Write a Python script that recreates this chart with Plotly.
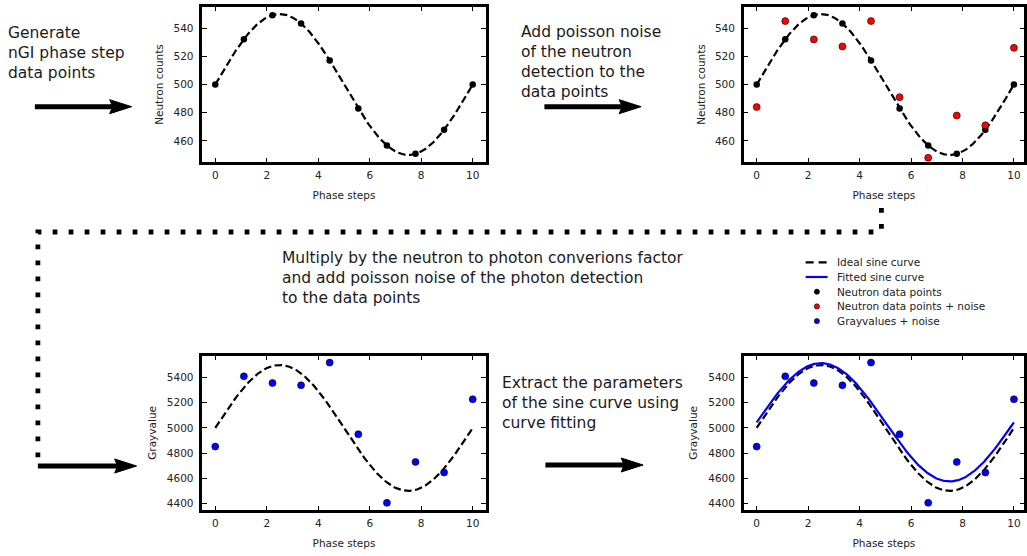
import numpy as np
import plotly.graph_objects as go

# ---- data -------------------------------------------------------------
phase_steps = [0.0, 1.111, 2.222, 3.333, 4.444, 5.556, 6.667, 7.778, 8.889, 10.0]
neutron_counts = [500.0, 532.1, 549.2, 543.3, 517.1, 482.9, 456.7, 450.8, 467.9, 500.0]
neutron_counts_noisy = [484, 545, 532, 527, 545, 491, 448, 478, 471, 526]
grayvalues_noisy = [4852, 5410, 5357, 5339, 5519, 4950, 4405, 4730, 4646, 5228]

# sine curve parameters (offset, amplitude, period)
ideal_neutron = (500, 50, 10)
ideal_gray = (5000, 500, 10)
fitted_gray = (5045, 470, 10)

x_ticks = [0, 2, 4, 6, 8, 10]
neutron_ticks = [460, 480, 500, 520, 540]
gray_ticks = [4400, 4600, 4800, 5000, 5200, 5400]

W, H = 1027, 556
FONT = "DejaVu Sans"
BLUE = "#0000ff"
RED = "#ff0000"


def sine(params, x):
    offset, amp, period = params
    return offset + amp * np.sin(2 * np.pi * np.asarray(x) / period)


x_dense = np.linspace(0, 10, 300)


def px(x):
    return x / W


def py(y):
    return 1 - y / H


fig = go.Figure()

dash_line = dict(color="black", width=2.2, dash="7.5px,3.5px")

# panel 1: ideal neutron data points
fig.add_trace(go.Scatter(x=x_dense, y=sine(ideal_neutron, x_dense), mode="lines",
                         line=dash_line, xaxis="x", yaxis="y", showlegend=False))
fig.add_trace(go.Scatter(x=phase_steps, y=neutron_counts, mode="markers",
                         marker=dict(color="black", size=6.5), xaxis="x", yaxis="y",
                         showlegend=False))

# panel 2: neutron data points with poisson noise
fig.add_trace(go.Scatter(x=x_dense, y=sine(ideal_neutron, x_dense), mode="lines",
                         line=dash_line, xaxis="x2", yaxis="y2", showlegend=False))
fig.add_trace(go.Scatter(x=phase_steps, y=neutron_counts, mode="markers",
                         marker=dict(color="black", size=6.5), xaxis="x2", yaxis="y2",
                         showlegend=False))
fig.add_trace(go.Scatter(x=phase_steps, y=neutron_counts_noisy, mode="markers",
                         marker=dict(color=RED, size=7, line=dict(color="black", width=0.6)),
                         xaxis="x2", yaxis="y2", showlegend=False))

# panel 3: gray values with photon noise
fig.add_trace(go.Scatter(x=x_dense, y=sine(ideal_gray, x_dense), mode="lines",
                         line=dash_line, xaxis="x3", yaxis="y3", showlegend=False))
fig.add_trace(go.Scatter(x=phase_steps, y=grayvalues_noisy, mode="markers",
                         marker=dict(color=BLUE, size=7, line=dict(color="black", width=0.6)),
                         xaxis="x3", yaxis="y3", showlegend=False))

# panel 4: fitted sine curve
fig.add_trace(go.Scatter(x=x_dense, y=sine(ideal_gray, x_dense), mode="lines",
                         line=dash_line, xaxis="x4", yaxis="y4", showlegend=False))
fig.add_trace(go.Scatter(x=x_dense, y=sine(fitted_gray, x_dense), mode="lines",
                         line=dict(color=BLUE, width=2.2), xaxis="x4", yaxis="y4",
                         showlegend=False))
fig.add_trace(go.Scatter(x=phase_steps, y=grayvalues_noisy, mode="markers",
                         marker=dict(color=BLUE, size=7, line=dict(color="black", width=0.6)),
                         xaxis="x4", yaxis="y4", showlegend=False))

tick_font = dict(family=FONT, size=10.5, color="#222222")
title_font = dict(family=FONT, size=10.5, color="#222222")

common = dict(showline=True, linewidth=2.5, linecolor="black", mirror="ticks",
              ticks="inside", ticklen=4.5, tickwidth=1.4, tickcolor="black",
              showgrid=False, zeroline=False, tickfont=tick_font)

left_dom = [px(203), px(487)]
right_dom = [px(746), 1.0]
top_dom = [py(162), py(7)]
bot_dom = [py(510), py(355.7)]

xr_left = [-0.5, 10.5]
xr_right = [-0.5, -0.5 + (W - 746) / 25.8]

def xaxis(domain, rng, anchor):
    return dict(common, domain=domain, range=rng, anchor=anchor, tickvals=x_ticks,
                ticklabelstandoff=2,
                title=dict(text="Phase steps", font=title_font, standoff=11.5))

def yaxis(domain, rng, anchor, ticks, title, standoff):
    return dict(common, domain=domain, range=rng, anchor=anchor, tickvals=ticks,
                ticklabelstandoff=4,
                title=dict(text=title, font=title_font, standoff=standoff))

fig.update_layout(
    width=W, height=H, margin=dict(l=0, r=0, t=0, b=0),
    paper_bgcolor="white", plot_bgcolor="white",
    xaxis=xaxis(left_dom, xr_left, "y"),
    yaxis=yaxis(top_dom, [445, 555], "x", neutron_ticks, "Neutron counts", 8),
    xaxis2=xaxis(right_dom, xr_right, "y2"),
    yaxis2=yaxis(top_dom, [445, 555], "x2", neutron_ticks, "Neutron counts", 8),
    xaxis3=xaxis(left_dom, xr_left, "y3"),
    yaxis3=yaxis(bot_dom, [4348, 5574], "x3", gray_ticks, "Grayvalue", 9),
    xaxis4=xaxis(right_dom, xr_right, "y4"),
    yaxis4=yaxis(bot_dom, [4348, 5574], "x4", gray_ticks, "Grayvalue", 9),
)

shapes = []
annotations = []

# flow arrows between the panels
def arrow(x0, x1, y):
    head_len, head_half = 22, 7
    xb = x1 - head_len
    shapes.append(dict(type="line", xref="paper", yref="paper",
                       x0=px(x0), x1=px(xb + 4), y0=py(y), y1=py(y),
                       line=dict(color="black", width=5)))
    path = "M {},{} L {},{} L {},{} L {},{} Z".format(
        px(x1), py(y), px(xb), py(y - head_half), px(xb + 3), py(y),
        px(xb), py(y + head_half))
    shapes.append(dict(type="path", xref="paper", yref="paper", path=path,
                       fillcolor="black", line=dict(color="black", width=1)))

arrow(35, 132, 106.7)
arrow(546, 643, 106.7)
arrow(38, 137, 466)
arrow(547, 645, 465)

# dotted connector from the top row back to the lower-left panel
dotted = "M {},{} L {},{} L {},{} L {},{}".format(
    px(884), py(208), px(884), py(232), px(38), py(232), px(38), py(464))
shapes.append(dict(type="path", xref="paper", yref="paper", path=dotted,
                   line=dict(color="black", width=4.8, dash="4.8px,11.2px")))

# step descriptions
main_font = dict(family=FONT, size=15.5, color="#1a1a1a")

def note(text, x, yc):
    annotations.append(dict(text=text, x=px(x), y=py(yc), xref="paper", yref="paper",
                            xanchor="left", yanchor="middle", align="left",
                            showarrow=False, font=main_font))

note("Generate<br>nGI phase step<br>data points", 6, 53.5)
note("Add poisson noise<br>of the neutron<br>detection to the<br>data points", 521, 62.5)
note("Multiply by the neutron to photon converions factor<br>"
     "and add poisson noise of the photon detection<br>to the data points", 281, 278)
note("Extract the parameters<br>of the sine curve using<br>curve fitting", 501, 402.5)

# legend
legend_labels = ["Ideal sine curve", "Fitted sine curve", "Neutron data points",
                 "Neutron data points + noise", "Grayvalues + noise"]
row_y = [262.3 + 14.7 * i for i in range(5)]
shapes.append(dict(type="line", xref="paper", yref="paper", x0=px(808), x1=px(830),
                   y0=py(row_y[0]), y1=py(row_y[0]),
                   line=dict(color="black", width=2.2, dash="8px,5px")))
shapes.append(dict(type="line", xref="paper", yref="paper", x0=px(808), x1=px(830),
                   y0=py(row_y[1]), y1=py(row_y[1]),
                   line=dict(color=BLUE, width=2.2)))
for yy, fill in zip(row_y[2:], ["black", RED, BLUE]):
    r = 2.6
    shapes.append(dict(type="circle", xref="paper", yref="paper",
                       x0=px(819.3 - r), x1=px(819.3 + r), y0=py(yy - r), y1=py(yy + r),
                       fillcolor=fill, line=dict(color="black", width=0.6)))
for yy, lab in zip(row_y, legend_labels):
    annotations.append(dict(text=lab, x=px(837), y=py(yy), xref="paper", yref="paper",
                            xanchor="left", yanchor="middle", showarrow=False,
                            font=dict(family=FONT, size=10.5, color="#222222")))

fig.update_layout(shapes=shapes, annotations=annotations)

fig.write_html("out.html")
